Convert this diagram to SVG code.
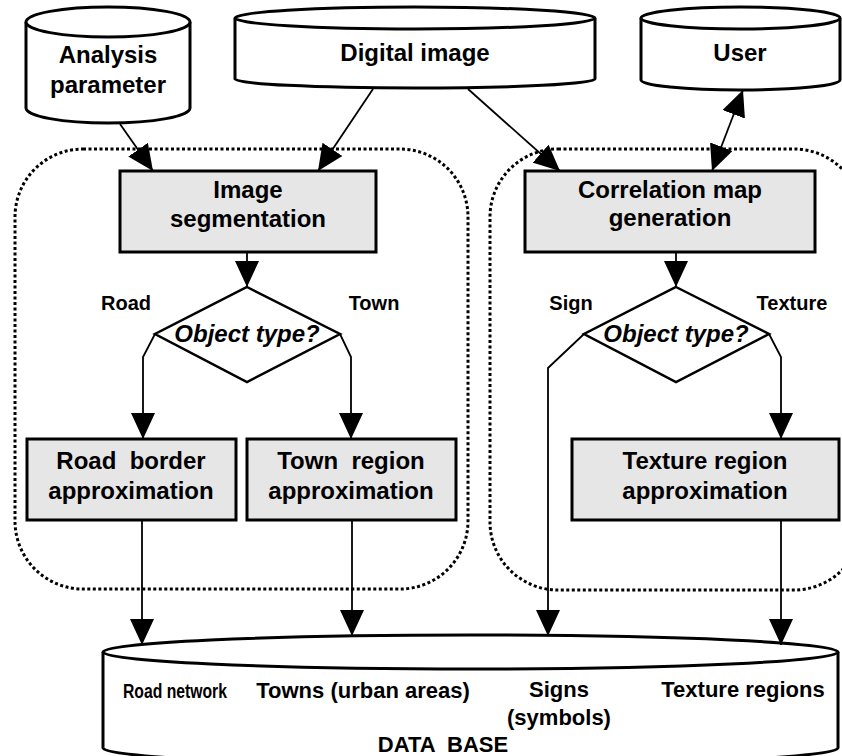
<svg xmlns="http://www.w3.org/2000/svg" width="842" height="756" viewBox="0 0 842 756">
<defs>
<marker id="ah" viewBox="0 0 26 24" refX="26" refY="12" markerWidth="26" markerHeight="24" markerUnits="userSpaceOnUse" orient="auto-start-reverse">
<path d="M0,0 L26,12 L0,24 Z" fill="#000"/>
</marker>
</defs>
<style>
text{font-family:"Liberation Sans",Arial,Helvetica,sans-serif;font-weight:bold;fill:#000;text-anchor:middle}
.t24{font-size:24px}
.t20{font-size:20px}
.t22{font-size:22px}
.it{font-style:italic}
.cyl{fill:#fff;stroke:#000;stroke-width:3}
.box{fill:#e6e6e6;stroke:#000;stroke-width:3}
.dia{fill:#fff;stroke:#000;stroke-width:2.5}
.dot{fill:none;stroke:#000;stroke-width:3;stroke-dasharray:3 2.5}
.ln{fill:none;stroke:#000;stroke-width:1.8}
</style>
<rect width="842" height="756" fill="#fff"/>
<g id="groups">
<rect class="dot" x="15" y="149" width="453" height="440" rx="68" ry="68"/>
<rect class="dot" x="490" y="149" width="372" height="441" rx="68" ry="68"/>
</g>
<g id="analysis-parameter">
<path class="cyl" d="M26,22 L26,108 A82,15 0 0 0 190,108 L190,22"/>
<ellipse class="cyl" cx="108" cy="22" rx="82" ry="15"/>
<text class="t24" x="108" y="63">Analysis</text>
<text class="t24" x="108" y="93">parameter</text>
</g>
<g id="digital-image">
<path class="cyl" d="M235,18 L235,79 A180,9 0 0 0 595,79 L595,18"/>
<ellipse class="cyl" cx="415" cy="18" rx="180" ry="11"/>
<text class="t24" x="415" y="61">Digital image</text>
</g>
<g id="user">
<path class="cyl" d="M641,18 L641,80 A99.5,10 0 0 0 840,80 L840,18"/>
<ellipse class="cyl" cx="740.5" cy="18" rx="99.5" ry="11"/>
<text class="t24" x="740" y="61">User</text>
</g>
<g id="image-segmentation">
<rect class="box" x="120" y="171" width="256" height="81"/>
<text class="t24" x="248" y="198">Image</text>
<text class="t24" x="248" y="227">segmentation</text>
</g>
<g id="decision-left">
<polygon class="dia" points="247,287 340,334 247,382 155,334"/>
<text class="t24 it" x="247" y="342">Object type?</text>
</g>
<g id="road-border">
<rect class="box" x="27" y="439" width="209" height="81"/>
<text class="t24" x="131" y="469" xml:space="preserve">Road  border</text>
<text class="t24" x="131" y="499">approximation</text>
</g>
<g id="town-region">
<rect class="box" x="247" y="439" width="209" height="81"/>
<text class="t24" x="351" y="469" xml:space="preserve">Town  region</text>
<text class="t24" x="351" y="499">approximation</text>
</g>
<g id="correlation-map">
<rect class="box" x="525" y="171" width="290" height="81"/>
<text class="t24" x="670" y="198">Correlation map</text>
<text class="t24" x="670" y="226">generation</text>
</g>
<g id="decision-right">
<polygon class="dia" points="676,287 769,334 676,382 584,334"/>
<text class="t24 it" x="676" y="342">Object type?</text>
</g>
<g id="texture-region">
<rect class="box" x="572" y="439" width="267" height="81"/>
<text class="t24" x="705" y="469">Texture region</text>
<text class="t24" x="705" y="499">approximation</text>
</g>
<g id="database">
<path class="cyl" d="M103,652 L103,748 A367.5,17 0 0 0 838,748 L838,652"/>
<ellipse class="cyl" cx="470.5" cy="652" rx="367.5" ry="17"/>
<text class="t20" x="175" y="698" textLength="104" lengthAdjust="spacingAndGlyphs">Road network</text>
<text class="t22" x="363" y="698">Towns (urban areas)</text>
<text class="t22" x="559" y="697">Signs</text>
<text class="t22" x="559" y="725">(symbols)</text>
<text class="t22" x="443" y="752" xml:space="preserve">DATA  BASE</text>
<text class="t22" x="743" y="697">Texture regions</text>
</g>
<g id="labels">
<text class="t20" x="126" y="310">Road</text>
<text class="t20" x="374" y="310">Town</text>
<text class="t20" x="571" y="310">Sign</text>
<text class="t20" x="792" y="310">Texture</text>
</g>
<g id="connectors">
<path class="ln" marker-end="url(#ah)" d="M120,124 L153,171"/>
<path class="ln" marker-end="url(#ah)" d="M373,89 L318,171"/>
<path class="ln" marker-end="url(#ah)" d="M468,89 L560,171"/>
<path class="ln" marker-start="url(#ah)" marker-end="url(#ah)" d="M743,90 L712,171"/>
<path class="ln" marker-end="url(#ah)" d="M247,253 L247,287"/>
<path class="ln" marker-end="url(#ah)" d="M155,334 L143,357 L143,439"/>
<path class="ln" marker-end="url(#ah)" d="M340,334 L351,357 L351,439"/>
<path class="ln" marker-end="url(#ah)" d="M142,521 L142,645"/>
<path class="ln" marker-end="url(#ah)" d="M352,521 L352,636"/>
<path class="ln" marker-end="url(#ah)" d="M676,253 L676,287"/>
<path class="ln" marker-end="url(#ah)" d="M584,334 L548,368 L548,636"/>
<path class="ln" marker-end="url(#ah)" d="M769,334 L781,357 L781,439"/>
<path class="ln" marker-end="url(#ah)" d="M781,521 L781,645"/>
</g>
</svg>
